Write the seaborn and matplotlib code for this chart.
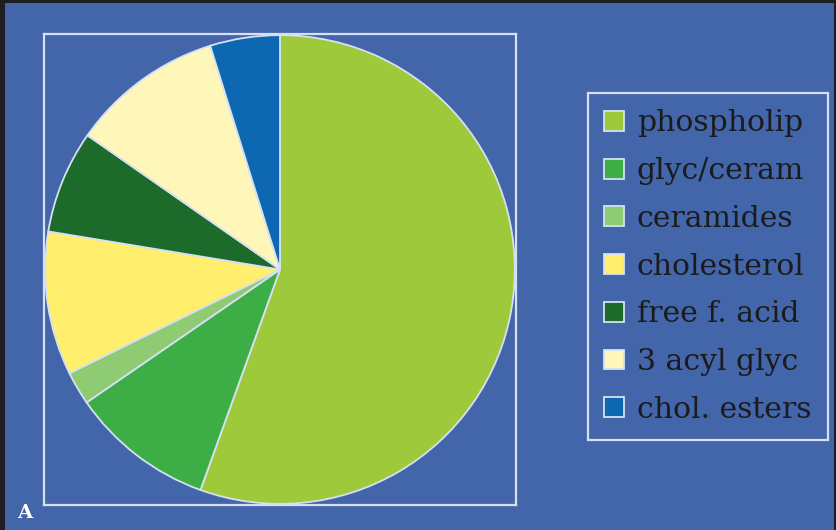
import matplotlib
matplotlib.use("Agg")
import matplotlib.pyplot as plt
import seaborn as sns
from matplotlib.patches import Rectangle

categories = ["phospholip", "glyc/ceram", "ceramides", "cholesterol",
              "free f. acid", "3 acyl glyc", "chol. esters"]
values = [55.5, 9.9, 2.3, 9.9, 7.1, 10.5, 4.8]
colors = ["#9DC93B", "#3DAE46", "#8ECB73", "#FFEF6C", "#1C6B2B", "#FFF7B9", "#0D67B1"]

BG = "#4365A9"
EDGE = "#D6E0F2"

sns.set_theme(style="white")
plt.rcParams["font.family"] = ["DejaVu Serif"]

fig = plt.figure(figsize=(8.36, 5.30), dpi=100, facecolor=BG)
W, H = 836, 530
ax = fig.add_axes([44 / W, 1 - 505 / H, 472 / W, 471 / H])

wedges, _ = ax.pie(values, colors=colors, startangle=90, counterclock=False,
                   radius=1.0,
                   wedgeprops=dict(edgecolor=EDGE, linewidth=1.3))
ax.set_frame_on(True)
ax.set_facecolor(BG)
ax.set_xlim(-1.005, 1.005)
ax.set_ylim(-1.005, 1.005)
ax.set_aspect("auto")
for s in ax.spines.values():
    s.set_visible(True)
    s.set_color(EDGE)
    s.set_linewidth(1.6)
ax.set_xticks([])
ax.set_yticks([])

leg = fig.legend(wedges, categories, loc="upper left",
                 bbox_to_anchor=(588 / W, 1 - 93 / H),
                 bbox_transform=fig.transFigure,
                 frameon=True, fancybox=False, fontsize=21.5,
                 handlelength=0.64, handleheight=0.64, handletextpad=0.45,
                 labelspacing=0.66, borderpad=0.55, borderaxespad=0,
                 labelcolor="#1B1B1B")
fr = leg.get_frame()
fr.set_facecolor(BG)
fr.set_edgecolor(EDGE)
fr.set_linewidth(1.6)
fr.set_alpha(1)
for h in leg.legend_handles:
    h.set_edgecolor(EDGE)
    h.set_linewidth(1.3)

fig.text(17 / W, 1 - 518 / H, "A", color="white", fontsize=14,
         fontweight="bold", family="DejaVu Serif", va="baseline", ha="left")

# dark frame edges
fig.add_artist(Rectangle((0, 0), 5 / W, 1, transform=fig.transFigure,
                         facecolor="#1E1E22", edgecolor="none"))
fig.add_artist(Rectangle((0, 1 - 3 / H), 1, 3 / H, transform=fig.transFigure,
                         facecolor="#1E1E22", edgecolor="none"))
fig.add_artist(Rectangle((1 - 2 / W, 0), 2 / W, 1, transform=fig.transFigure,
                         facecolor="#1E1E22", edgecolor="none"))

fig.savefig("out.png", dpi=100, facecolor=BG)
